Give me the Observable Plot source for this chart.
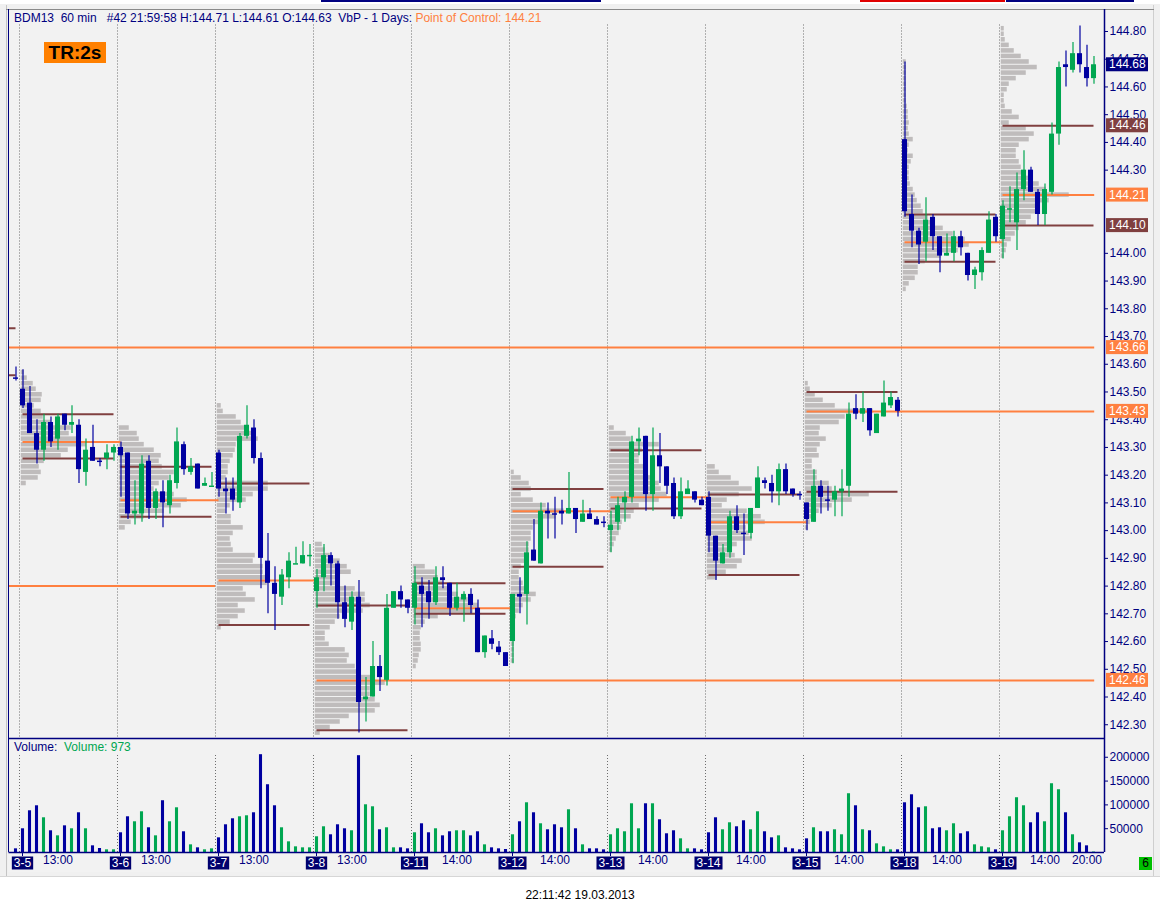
<!DOCTYPE html>
<html><head><meta charset="utf-8">
<script src="https://cdn.jsdelivr.net/npm/d3@7"></script>
<script src="https://cdn.jsdelivr.net/npm/@observablehq/plot@0.6"></script>
<style>
body{margin:0;background:#fff;font-family:"Liberation Sans",Arial,sans-serif;}
#wrap{position:relative;width:1160px;height:912px;overflow:hidden;background:#fff;}
.abs{position:absolute;}
.hdr{font-size:12px;line-height:14px;white-space:pre;}
</style></head><body>
<div id="wrap">
  <div class="abs" style="left:0;top:4px;width:1160px;height:872px;background:#f0f0f0;border-bottom:1px solid #d6d6d6;"></div>
  <div class="abs" style="left:8px;top:9px;width:1145px;height:863px;background:#f2f2f2;"></div>
  <div class="abs" style="left:6px;top:5px;width:1px;height:871px;background:#c4c4c4;"></div>
  <div class="abs" style="left:1153px;top:5px;width:1px;height:871px;background:#cfcfcf;"></div>
  <div class="abs" style="left:6px;top:9px;width:1148px;height:1px;background:#8a8a8a;"></div>
  <div class="abs" style="left:321px;top:0;width:280px;height:2px;background:#000080;"></div>
  <div class="abs" style="left:860px;top:0;width:145px;height:2px;background:#e00000;"></div>
  <div class="abs" style="left:1006px;top:0;width:128px;height:2px;background:#000080;"></div>
  <div id="price" class="abs" style="left:0;top:0;"></div>
  <div id="vol" class="abs" style="left:0;top:738px;"></div>
  <div class="abs" style="left:8px;top:9px;width:1px;height:843px;background:#000080;"></div>
  <div id="hdr" class="abs hdr" style="left:14px;top:10.5px;color:#000080;"></div>
  <div class="abs" style="left:44px;top:42px;width:62px;height:21px;background:#ff8000;color:#000;font:bold 19px 'Liberation Sans',Arial,sans-serif;line-height:21px;text-align:center;">TR:2s</div>
  <div id="vhdr" class="abs hdr" style="left:14px;top:739.5px;color:#000080;"></div>
  <div class="abs" style="left:1139px;top:857px;width:13px;height:13px;background:#00c000;color:#000;font-size:12px;line-height:13px;text-align:center;">6</div>
  <div class="abs" style="left:0;top:888px;width:1160px;text-align:center;font-size:12px;line-height:14px;color:#000;">22:11:42 19.03.2013</div>
</div>
<script>
// ---------------- DATA ----------------
const dayLabels = ["3-5","3-6","3-7","3-8","3-11","3-12","3-13","3-14","3-15","3-18","3-19"];
const BARS = 14;            // hourly bars per session
const firstIndex = -1;      // first bar in the arrays is the last bar of 3-4

const opens = [143.55,
 143.51,143.46,143.35,143.29,143.39,143.33,143.42,143.38,143.38,143.21,143.30,143.25,143.26,143.28,
 143.30,143.28,143.06,143.06,143.25,143.08,143.14,143.09,143.17,143.31,143.21,143.24,143.16,143.16,
 143.28,143.15,143.15,143.10,143.34,143.37,143.26,142.89,142.81,142.76,142.83,142.88,142.88,142.91,
 142.78,142.83,142.91,142.88,142.74,142.67,142.76,142.39,142.40,142.51,142.46,142.72,142.78,142.75,
 142.72,142.80,142.78,142.74,142.83,142.81,142.72,142.75,142.77,142.72,142.56,142.61,142.58,142.56,
 142.60,142.77,142.77,142.93,142.88,143.07,143.06,143.07,143.06,143.08,143.03,143.06,143.04,143.03,
 143.00,143.03,143.10,143.12,143.32,143.34,143.13,143.27,143.23,143.17,143.05,143.13,143.14,143.11,
 143.12,142.98,142.88,142.92,143.05,142.99,142.99,143.08,143.18,143.17,143.14,143.22,143.15,143.13,
 143.10,143.03,143.16,143.11,143.11,143.14,143.16,143.44,143.42,143.44,143.35,143.41,143.45,143.47,
 144.41,144.14,144.08,144.04,144.13,144.06,143.99,144.00,144.06,144.00,143.92,143.93,144.00,144.13,
 144.05,144.16,144.11,144.23,144.30,144.22,144.14,144.22,144.43,144.68,144.66,144.72,144.67,144.63];
const highs = [143.59,
 143.58,143.52,143.40,143.42,143.41,143.42,143.42,143.45,143.40,143.33,143.38,143.26,143.31,143.31,
 143.32,143.28,143.18,143.27,143.27,143.15,143.18,143.20,143.37,143.32,143.26,143.24,143.19,143.21,
 143.29,143.19,143.19,143.35,143.45,143.40,143.28,142.99,142.87,142.86,142.92,142.94,142.96,142.95,
 142.86,142.95,142.92,142.89,142.80,142.78,142.82,142.47,142.60,142.55,142.77,142.78,142.80,142.75,
 142.87,142.83,142.82,142.87,142.87,142.81,142.81,142.78,142.79,142.75,142.62,142.64,142.60,142.56,
 142.77,142.83,142.96,143.04,143.10,143.10,143.12,143.11,143.21,143.08,143.11,143.08,143.05,143.05,
 143.07,143.12,143.14,143.34,143.37,143.34,143.37,143.35,143.23,143.19,143.19,143.18,143.14,143.12,
 143.14,142.98,142.95,143.07,143.09,143.06,143.08,143.23,143.19,143.20,143.24,143.24,143.15,143.14,
 143.10,143.22,143.18,143.16,143.16,143.22,143.46,143.49,143.50,143.44,143.42,143.54,143.50,143.48,
 144.69,144.21,144.09,144.20,144.14,144.06,144.07,144.08,144.08,144.00,143.95,144.02,144.15,144.14,
 144.19,144.24,144.29,144.37,144.31,144.23,144.25,144.47,144.69,144.73,144.76,144.82,144.75,144.71];
const lows = [143.54,
 143.44,143.35,143.24,143.25,143.30,143.29,143.36,143.35,143.17,143.16,143.25,143.23,143.22,143.25,
 143.12,143.04,143.02,143.03,143.04,143.04,143.01,143.06,143.15,143.20,143.20,143.15,143.16,143.16,
 143.12,143.06,143.07,143.08,143.33,143.24,142.79,142.70,142.64,142.73,142.79,142.88,142.88,142.87,
 142.72,142.78,142.80,142.68,142.65,142.64,142.27,142.31,142.40,142.42,142.44,142.72,142.72,142.70,
 142.66,142.65,142.68,142.73,142.79,142.69,142.71,142.67,142.70,142.56,142.54,142.57,142.55,142.51,
 142.52,142.70,142.66,142.89,142.88,142.97,142.97,143.02,143.06,142.99,143.03,143.04,143.02,143.01,
 142.92,143.00,143.03,143.10,143.27,143.07,143.07,143.17,143.13,143.04,143.04,143.13,143.10,143.09,
 142.92,142.82,142.88,142.90,142.99,142.91,142.97,143.08,143.15,143.10,143.09,143.13,143.12,143.11,
 143.00,143.03,143.06,143.07,143.05,143.05,143.12,143.40,143.39,143.34,143.35,143.41,143.44,143.41,
 144.13,144.02,143.96,143.97,144.01,143.93,143.99,143.97,143.99,143.90,143.87,143.90,144.00,144.04,
 143.98,144.11,144.01,144.19,144.22,144.10,144.10,144.21,144.39,144.60,144.65,144.65,144.60,144.61];
const closes = [143.55,
 143.45,143.35,143.29,143.39,143.32,143.41,143.38,143.39,143.22,143.29,143.25,143.25,143.28,143.30,
 143.27,143.06,143.07,143.24,143.08,143.14,143.10,143.18,143.32,143.22,143.23,143.15,143.17,143.16,
 143.15,143.14,143.11,143.34,143.38,143.26,142.90,142.81,142.77,142.84,142.89,142.88,142.91,142.91,
 142.83,142.91,142.88,142.74,142.68,142.76,142.38,142.40,142.51,142.47,142.72,142.78,142.75,142.72,
 142.81,142.77,142.74,142.83,142.82,142.72,142.76,142.77,142.73,142.56,142.62,142.59,142.56,142.51,
 142.77,142.76,142.92,142.89,143.07,143.06,143.06,143.06,143.08,143.04,143.06,143.04,143.02,143.03,
 143.02,143.09,143.12,143.32,143.33,143.13,143.27,143.23,143.16,143.05,143.14,143.15,143.11,143.09,
 142.98,142.89,142.92,143.05,143.00,142.99,143.08,143.19,143.17,143.14,143.22,143.14,143.13,143.13,
 143.04,143.16,143.12,143.11,143.14,143.15,143.42,143.42,143.44,143.36,143.42,143.46,143.48,143.43,
 144.15,144.08,144.03,144.12,144.06,143.99,144.00,144.06,144.02,143.92,143.94,144.01,144.12,144.06,
 144.17,144.16,144.23,144.30,144.22,144.14,144.23,144.43,144.67,144.67,144.72,144.68,144.63,144.68];
const volumes = [7700,
 49800,87600,98100,72900,45600,35000,56000,49800,83400,49800,14000,8400,5600,5600,
 41400,75000,64500,85500,51900,35000,108700,64500,93900,43500,16100,9800,5600,7700,
 30800,58200,70800,75000,77100,83400,205400,142300,98100,51900,22400,11900,9800,9800,
 33000,54000,37200,58200,49800,45600,203300,100200,96000,47700,51900,9800,9800,7700,
 41400,60300,41400,49800,35000,43500,45600,45600,35000,43500,16100,9800,7700,6300,
 37200,64500,104400,83400,60300,47700,58200,51900,89700,49800,16100,7700,7700,5600,
 37200,49800,43500,102300,49800,102300,102300,68700,39300,45600,28700,7700,7700,5600,
 41400,72900,47700,62400,54000,66600,47700,85500,43500,30800,35000,9800,7700,5600,
 28700,51900,43500,43500,47700,37200,123400,98100,47700,45600,18200,11900,5600,5600,
 104400,121200,93900,96000,49800,51900,45600,60300,39300,43500,16100,11900,9800,5600,
 45600,75000,115000,98100,62400,83400,64500,144400,131800,83400,37200,20300,14000,973];
const greenDojis = [27, 39, 41, 141];

// value area high / point of control / value area low, sessions 3-4 .. 3-19
const vahs = [143.73,143.42,143.23,143.17,142.73,142.81,143.15,143.29,143.13,143.50,144.14,144.46];
const pocs = [143.66,143.32,143.11,142.82,142.46,142.72,143.07,143.12,143.03,143.43,144.04,144.21];
const vals = [143.56,143.26,143.05,142.66,142.28,142.70,142.87,143.08,142.84,143.14,143.97,144.10];
const nakedPoc = [true,false,false,false,true,false,false,false,false,true,false,true];
const olderPoc = 142.80, olderPocTouchedDay = 2;

// volume-at-price profiles (step 0.02, from top price downwards)
const vapTops = [143.57,143.37,143.45,142.95,142.87,143.21,143.37,143.23,143.53,144.69,144.81];
const vap35 = [3,6,12,15,21,20,13,20,22,30,50,48,60,65,47,40,23,18,20,17,5];
const vap36 = [10,18,20,25,35,42,40,43,55,50,40,35,55,68,62,45,25,12,6];
const vap37 = [4,6,19,24,28,36,41,19,18,16,13,11,11,9,51,51,36,29,13,9,14,14,26,16,13,14,16,38,36,46,46,52,50,26,29,38,21,28,21,13,4];
const vap38 = [7,10,15,25,32,36,22,20,40,50,50,55,48,25,20,15,10,10,14,30,34,32,40,45,60,70,55,55,60,65,60,34,25,15,5];
const vap311 = [12,22,25,30,35,45,55,65,60,25,12,8,7,7,8,8,6,5,3];
const vap312 = [3,10,18,20,10,22,35,53,45,30,22,20,20,18,18,18,15,10,8,8,12,15,25,20,12,8,5,4,3,3,3,3,3,3,3];
const vap313 = [5,17,22,50,33,30,30,35,38,42,50,52,58,50,30,25,22,13,12,10,7,5,3];
const vap314 = [8,12,24,32,45,32,20,15,40,54,58,39,42,45,30,22,28,35,30,19,10];
const vap315 = [3,5,10,18,30,68,40,34,15,14,21,15,12,14,7,7,12,12,24,27,64,47,27,14,10,5,3];
const vap318 = [3,3,3,3,3,3,3,3,4,5,5,6,5,6,10,6,5,10,8,6,6,6,7,10,12,14,18,20,25,30,40,50,62,66,55,38,22,15,15,12,6,3];
const vap319 = [3,3,4,8,13,20,28,36,25,15,8,6,3,3,4,11,18,8,25,33,28,18,15,15,18,20,25,31,38,45,68,48,38,35,30,25,18,14,10,6,5,3];
const vapLists = [vap35,vap36,vap37,vap38,vap311,vap312,vap313,vap314,vap315,vap318,vap319];

const priceTicks = [142.3,142.4,142.5,142.6,142.7,142.8,142.9,143.0,143.1,143.2,143.3,143.4,143.5,143.6,143.7,143.8,143.9,144.0,144.1,144.2,144.3,144.4,144.5,144.6,144.7,144.8];
const volumeTicks = [50000,100000,150000,200000];
const timeLabelText = ["13:00","13:00","13:00","13:00","14:00","14:00","14:00","14:00","14:00","14:00","14:00","20:00"];
const timeLabelDay  = [0,1,2,3,4,5,6,7,8,9,10,10];
const timeLabelBar  = [5,5,5,5,6,6,6,6,6,6,6,12];

// ---------------- BUILD ----------------
const navy = "#000080", upCol = "#00a651", dnCol = "#0000a0", vaCol = "#804040", pocCol = "#ff8040";
const fmt2 = d3.format(".2f");
const bars = opens.map((o, i) => {
  const k = i + firstIndex, c = closes[i];
  const up = c > o || (c === o && greenDojis.includes(k));
  return {k, o, h: highs[i], l: lows[i], c, v: volumes[i], col: up ? upCol : dnCol};
});
const lastBar = bars[bars.length - 1];
const lastK = lastBar.k;
const dayStart = d => d * BARS;
const xDomain = [-2, lastK + 1.5];

const levelRows = [];
[-1, ...dayLabels.map((_, i) => i)].forEach((d, j) => {
  const s = dayStart(d);
  const isLast = d === dayLabels.length - 1;
  levelRows.push({p: vahs[j], x1: s, x2: s + BARS - 1, col: vaCol});
  levelRows.push({p: vals[j], x1: s, x2: s + BARS - 1, col: vaCol});
  levelRows.push({p: pocs[j], x1: s, x2: (nakedPoc[j] || isLast) ? lastK + 0.1 : s + BARS, col: pocCol});
});
levelRows.push({p: olderPoc, x1: dayStart(-3), x2: dayStart(olderPocTouchedDay) - 0.5, col: pocCol});

const vapRows = vapLists.flatMap((list, d) => list.map((v, j) => ({
  x1: dayStart(d) - 0.25, x2: dayStart(d) - 0.25 + v / 7, p: +(vapTops[d] - 0.02 * j).toFixed(2)
})));

// coloured price markers on the right axis
const last = dayLabels.length;
const markers = [
  {p: lastBar.c, fill: navy},
  {p: vahs[last], fill: vaCol}, {p: pocs[last], fill: pocCol}, {p: vals[last], fill: vaCol},
  ...pocs.map((p, j) => ({p, j})).filter(o => nakedPoc[o.j] && o.j !== last).map(o => ({p: o.p, fill: pocCol}))
];
// tick labels that a marker hides completely are not drawn
const shownTicks = priceTicks.filter(t => !markers.some(m => Math.abs(m.p - t) < 0.015));

const seps = dayLabels.map((_, d) => dayStart(d) - 0.5);
const baseStyle = {background: "transparent", color: navy, fontFamily: "'Liberation Sans', Arial, sans-serif", fontSize: "12px", overflow: "visible"};

const pricePlot = Plot.plot({
  width: 1160, height: 738,
  marginLeft: 8.5, marginRight: 56, marginTop: 9, marginBottom: 0,
  x: {domain: xDomain, axis: null},
  y: {domain: [142.2504, 144.8793], axis: null, label: null},
  style: baseStyle,
  marks: [
    Plot.rect(vapRows, {x1: "x1", x2: "x2", y1: d => d.p - 0.01, y2: d => d.p + 0.01, fill: "#bfbcbc", insetTop: 0.5, insetBottom: 0.5}),
    Plot.ruleX(seps, {x: d => d, stroke: "#6e6e6e", strokeDasharray: "1,2", insetTop: 15.5}),
    Plot.ruleY(levelRows.filter(r => r.col === vaCol), {y: "p", x1: "x1", x2: "x2", stroke: vaCol, strokeWidth: 2, clip: true}),
    Plot.ruleY(levelRows.filter(r => r.col === pocCol), {y: "p", x1: "x1", x2: "x2", stroke: pocCol, strokeWidth: 2, clip: true}),
    Plot.ruleX(bars, {x: "k", y1: "l", y2: "h", stroke: "col", strokeWidth: 1.2}),
    Plot.rect(bars.filter(b => b.o !== b.c), {x1: d => d.k - 0.36, x2: d => d.k + 0.36, y1: "o", y2: "c", fill: "col"}),
    Plot.ruleY(bars.filter(b => b.o === b.c), {y: "c", x1: d => d.k - 0.36, x2: d => d.k + 0.36, stroke: "col", strokeWidth: 1.5}),
    Plot.ruleX([xDomain[1]], {stroke: navy, strokeWidth: 1.5}),
    Plot.axisY({ticks: shownTicks, anchor: "right", label: null, tickSize: 3, tickPadding: 2, tickFormat: fmt2, fontSize: 12})
  ]
});
document.getElementById("price").appendChild(pricePlot);

const ySc = pricePlot.scale("y"), xSc = pricePlot.scale("x");
const axX = xSc.apply(xDomain[1]);
const mg = d3.select(pricePlot).append("g");
markers.forEach(m => {
  const y = ySc.apply(m.p);
  mg.append("rect").attr("x", axX + 2).attr("y", y - 7).attr("width", 42).attr("height", 14).attr("fill", m.fill);
  mg.append("text").attr("x", axX + 5).attr("y", y).attr("dy", "0.35em").attr("fill", "#fff")
    .attr("text-anchor", "start").attr("font-size", 12).text(fmt2(m.p));
});

// volume panel
const timeRows = timeLabelText.map((t, i) => ({x: dayStart(timeLabelDay[i]) + timeLabelBar[i], t}));
const volPlot = Plot.plot({
  width: 1160, height: 134,
  marginLeft: 8.5, marginRight: 56, marginTop: 0, marginBottom: 20,
  x: {domain: xDomain, axis: null},
  y: {domain: [0, 239400], axis: null, label: null},
  style: baseStyle,
  marks: [
    Plot.ruleX(seps, {x: d => d, stroke: "#6e6e6e", strokeDasharray: "1,2", insetTop: 17}),
    Plot.rect(bars, {x1: d => d.k - 0.22, x2: d => d.k + 0.22, y1: 0, y2: "v", fill: "col", clip: true}),
    Plot.ruleY([0], {stroke: navy, strokeWidth: 1.5}),
    Plot.ruleY([239400], {stroke: navy, strokeWidth: 1.5}),
    Plot.ruleX([xDomain[1]], {stroke: navy, strokeWidth: 1.5}),
    Plot.axisY({ticks: volumeTicks, anchor: "right", label: null, tickSize: 3, tickPadding: 2, tickFormat: d3.format("d"), fontSize: 12}),
    Plot.text(timeRows, {x: "x", text: "t", frameAnchor: "bottom", dy: 11, fill: navy, fontSize: 12})
  ]
});
document.getElementById("vol").appendChild(volPlot);

const vx = volPlot.scale("x");
const dg = d3.select(volPlot).append("g");
dayLabels.forEach((lab, d) => {
  const cx = vx.apply(dayStart(d));
  dg.append("line").attr("x1", cx).attr("x2", cx).attr("y1", 114).attr("y2", 118).attr("stroke", navy);
  const t = dg.append("text").attr("x", cx).attr("y", 125).attr("dy", "0.35em").attr("text-anchor", "middle")
    .attr("fill", "#fff").attr("font-size", 12).text(lab);
  const w = t.node().getComputedTextLength() + 4;
  dg.insert("rect", "text").attr("x", cx - w / 2).attr("y", 118.5).attr("width", w).attr("height", 13).attr("fill", "#00006e");
});
dg.selectAll("text").raise();

// header texts
document.getElementById("hdr").innerHTML =
  `BDM13  60 min   #42 21:59:58 H:${fmt2(lastBar.h)} L:${fmt2(lastBar.l)} O:${fmt2(lastBar.o)}  VbP - 1 Days: <span style="color:${pocCol}">Point of Control: ${fmt2(pocs[last])}</span>`;
document.getElementById("vhdr").innerHTML =
  `Volume:  <span style="color:#00a651">Volume: ${lastBar.v}</span>`;
</script>
</body></html>
